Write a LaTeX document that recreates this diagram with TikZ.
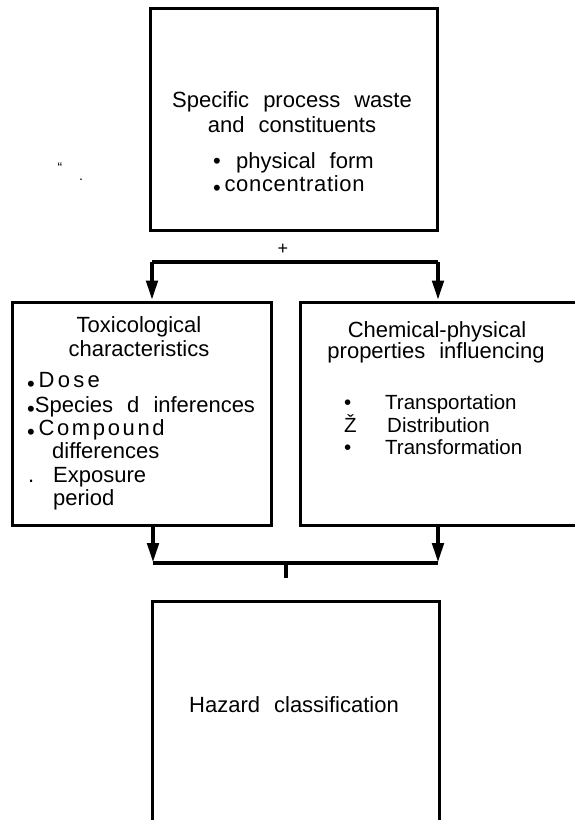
\documentclass[tikz,border=0pt]{standalone}
\usepackage{fontspec}
\setmainfont{Liberation Sans}[WordSpace=2.3]
\usetikzlibrary{arrows.meta}
% bullet sitting low, near the baseline
\newcommand{\lowdot}{\raisebox{-0.22em}{•}}
\begin{document}
\begin{tikzpicture}[x=1pt,y=-1pt,
  box/.style={draw, line width=3pt, inner sep=0pt},
  link/.style={line width=4.5pt, line join=miter},
  feed/.style={line width=4.5pt, -{Triangle[length=20pt,width=11pt]}},
  txt/.style={inner sep=0pt, anchor=base, font=\fontsize{22}{26}\selectfont},
  ltxt/.style={txt, anchor=base west},
  small/.style={font=\fontsize{20.5}{24}\selectfont},
]
\useasboundingbox (0,0) rectangle (574,820);

% boxes
\node[box, minimum width=287pt, minimum height=222pt] (src)  at (293.5,119) {};
\node[box, minimum width=259pt, minimum height=223pt] (tox)  at (141.5,413.5) {};
\node[box, minimum width=280pt, minimum height=223pt] (chem) at (440,413.5) {};
\node[box, minimum width=287pt, minimum height=229pt] (haz)  at (295.5,715.5) {};

% split into the two branches
\coordinate (sL) at (152,262);
\coordinate (sR) at (438,262);
\draw[link] (sL) -- (sR);
\draw[feed] (sL) -- (sL |- tox.north);
\draw[feed] (sR) -- (sR |- chem.north);
\node[txt, font=\fontsize{18}{20}\selectfont] (plus) at (283,254) {+};

% merge of the two branches
\coordinate (mL) at (153,563);
\coordinate (mR) at (438,563);
\coordinate (mM) at (286,563);
\coordinate (mS) at (286,578);
\draw[feed] (mL |- tox.south) -- (mL);
\draw[feed] (mR |- chem.south) -- (mR);
\draw[link] (mL) -- (mR);
\draw[link] (mM) -- (mS);

% source box text
\node[txt] (s1) at (292,107) {Specific process waste};
\node[txt] (s2) at (292,132) {and constituents};
\node[ltxt] (s3b) at (213,168) {•};
\node[ltxt] (s3) at (236,168) {physical form};
\node[ltxt] (s4) at (213,191) {\lowdot\,\addfontfeature{LetterSpace=3}concentration};

% toxicological box text
\node[txt] (t1) at (139,332) {Toxicological};
\node[txt] (t2) at (139,356) {characteristics};
\node[ltxt] (t3) at (27,387) {\lowdot\,\addfontfeature{LetterSpace=15}Dose};
\node[ltxt] (t4) at (27,412) {\lowdot Species d inferences};
\node[ltxt] (t5) at (27,435) {\lowdot\,\addfontfeature{LetterSpace=12}Compound};
\node[ltxt] (t6) at (52,458) {differences};
\node[ltxt] (t7b) at (28,482) {.};
\node[ltxt] (t7) at (53,482) {Exposure};
\node[ltxt] (t8) at (53,505) {period};

% chemical-physical box text
\node[txt] (c1) at (437,337) {Chemical-physical};
\node[txt] (c2) at (436,358) {properties influencing};
\node[ltxt, small] (c3b) at (344,409) {•};
\node[ltxt, small] (c3) at (385,409) {Transportation};
\node[ltxt, small] (c4b) at (344,432) {Ž};
\node[ltxt, small] (c4) at (387,432) {Distribution};
\node[ltxt, small] (c5b) at (344,454) {•};
\node[ltxt, small] (c5) at (385,454) {Transformation};

% result box text
\node[txt] (h1) at (294,712) {Hazard classification};

% stray marks
\node[txt, font=\fontsize{14}{16}\selectfont] (mark1) at (60,172) {“};
\node[txt, font=\fontsize{14}{16}\selectfont] (mark2) at (81,180) {.};
\end{tikzpicture}
\end{document}
